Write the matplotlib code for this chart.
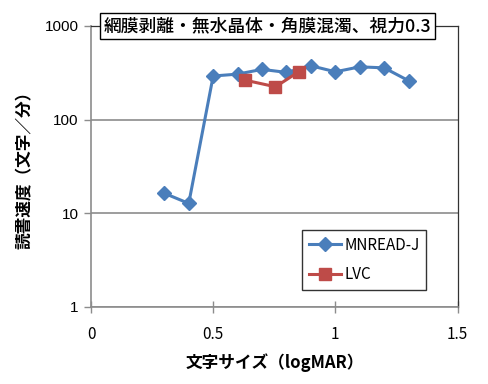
import numpy as np
import matplotlib.pyplot as plt
from matplotlib.ticker import FixedLocator, FixedFormatter, NullLocator

plt.rcParams['font.family'] = ['Noto Sans CJK JP', 'DejaVu Sans']

# データ
mnread_x = [0.3, 0.4, 0.5, 0.6, 0.7, 0.8, 0.9, 1.0, 1.1, 1.2, 1.3]
mnread_y = [16.3, 12.7, 292, 306, 344, 319, 376, 324, 366, 357, 260]
lvc_x = [0.63, 0.755, 0.85]
lvc_y = [264, 224, 324]

x_ticks = [0, 0.5, 1, 1.5]
x_tick_labels = ['0', '0.5', '1', '1.5']
y_ticks = [1, 10, 100, 1000]
y_tick_labels = ['1', '10', '100', '1000']

title = '網膜剥離・無水晶体・角膜混濁、視力0.3'

blue = '#4A7EBB'
red = '#BE4B48'

fig = plt.figure(figsize=(4.88, 3.84), dpi=100)
ax = fig.add_axes([0.1865, 0.2013, 0.7510, 0.7310])

ax.plot(mnread_x, mnread_y, color=blue, lw=2.2, marker='D', ms=7,
        label='MNREAD-J', zorder=3)
ax.plot(lvc_x, lvc_y, color=red, lw=2.2, marker='s', ms=8.5,
        label='LVC', zorder=3)

ax.set_yscale('log')
ax.set_xlim(0, 1.5)
ax.set_ylim(1, 1000)
ax.xaxis.set_major_locator(FixedLocator(x_ticks))
ax.xaxis.set_major_formatter(FixedFormatter(x_tick_labels))
ax.yaxis.set_major_locator(FixedLocator(y_ticks))
ax.yaxis.set_major_formatter(FixedFormatter(y_tick_labels))
ax.yaxis.set_minor_locator(NullLocator())

ax.grid(axis='y', color='#8C8C8C', lw=1.2)
ax.set_axisbelow(True)

for s in ['left', 'bottom']:
    ax.spines[s].set_color('#8C8C8C')
    ax.spines[s].set_linewidth(1.2)
for s in ['top', 'right']:
    ax.spines[s].set_color('#333333')
    ax.spines[s].set_linewidth(0.9)

ax.tick_params(axis='both', direction='out', length=5, color='#8C8C8C',
               width=1.0, labelsize=11, pad=4)
ax.tick_params(axis='x', pad=10, direction='inout', length=8)
for lab in ax.get_yticklabels():
    lab.set_fontfamily(['Liberation Sans', 'DejaVu Sans'])

ax.set_xlabel('文字サイズ（logMAR）', fontsize=12, fontweight='bold', labelpad=7)
ax.set_ylabel('読書速度（文字／分）', fontsize=12, fontweight='bold', labelpad=8)

ax.text(0.481, 1.0, title, transform=ax.transAxes, ha='center', va='center',
        fontsize=12.8, fontweight='medium', zorder=5,
        bbox=dict(boxstyle='square,pad=0.2', fc='white', ec='black', lw=1.0))

leg = ax.legend(loc='lower right', bbox_to_anchor=(0.915, 0.06), fontsize=11,
                frameon=True, fancybox=False, edgecolor='black',
                handlelength=2.1, borderpad=0.45, labelspacing=0.8,
                handletextpad=0.2, borderaxespad=0)
leg.get_frame().set_linewidth(1.0)

fig.savefig('out.png', dpi=100)
